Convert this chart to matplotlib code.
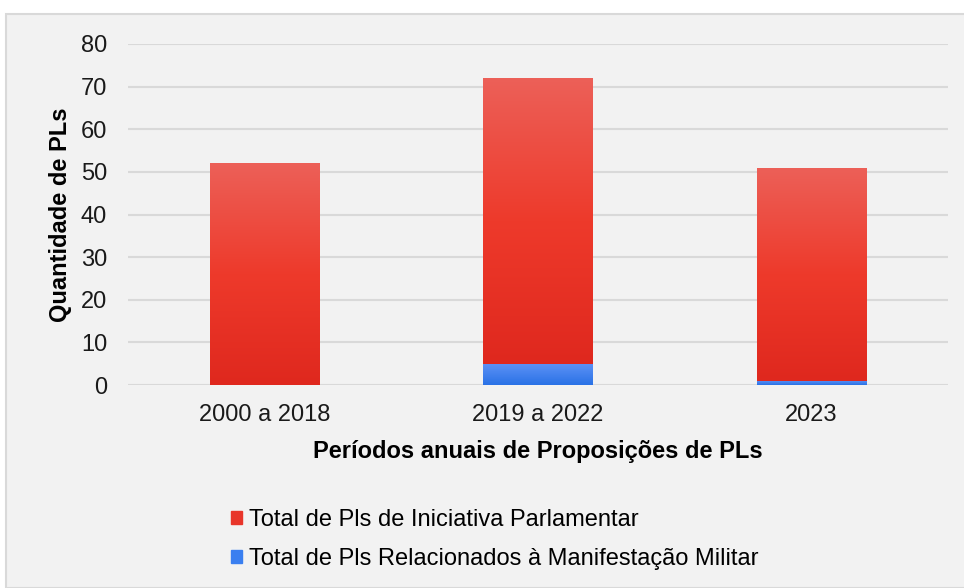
import numpy as np
import matplotlib.pyplot as plt
from matplotlib.colors import LinearSegmentedColormap
from matplotlib.patches import Rectangle

plt.rcParams['font.family'] = ['Liberation Sans', 'DejaVu Sans']

# Dados
periodos = ["2000 a 2018", "2019 a 2022", "2023"]
militar = [0, 5, 1]
parlamentar = [52, 67, 50]  # empilhado sobre "militar"
nome_parl = "Total de Pls de Iniciativa Parlamentar"
nome_mil = "Total de Pls Relacionados à Manifestação Militar"

fig = plt.figure(figsize=(9.64, 5.88), dpi=100)
fig.patch.set_facecolor("white")

# Painel cinza do gráfico
painel = Rectangle((6 / 964, 0), 1, 1 - 14 / 588, transform=fig.transFigure,
                   facecolor="#f2f2f2", edgecolor="#d9d9d9", lw=1.5, zorder=-10)
fig.patches.append(painel)

ax = fig.add_axes([128 / 964, 1 - 385 / 588, 820 / 964, 341 / 588])
ax.set_facecolor("none")
ax.set_zorder(1)

x = np.arange(len(periodos))
largura = 0.4

cmap_red = LinearSegmentedColormap.from_list("r", ["#df281e", "#ee3a2b", "#ec6058"])
cmap_blue = LinearSegmentedColormap.from_list("b", ["#2a72e6", "#5e92f6"])
grad = np.linspace(0, 1, 256).reshape(-1, 1)

barras_mil = ax.bar(x, militar, largura, color="#3a7ff0", label=nome_mil, zorder=3)
barras_parl = ax.bar(x, parlamentar, largura, bottom=militar, color="#e8352a",
                     label=nome_parl, zorder=3)

# Preenchimento em gradiente
for barras, cmap in [(barras_mil, cmap_blue), (barras_parl, cmap_red)]:
    for b in barras:
        if b.get_height() <= 0:
            continue
        bx, by = b.get_x(), b.get_y()
        w, h = b.get_width(), b.get_height()
        im = ax.imshow(grad, cmap=cmap, aspect="auto", origin="lower",
                       extent=[bx, bx + w, by, by + h], zorder=4)
        im.set_clip_path(b)

ax.set_xlim(-0.5, 2.5)
ax.set_ylim(0, 80)
ax.set_yticks(range(0, 81, 10))
ax.set_xticks(x)
ax.set_xticklabels(periodos)
ax.yaxis.grid(True, color="#d9d9d9", lw=1.5, zorder=0)
ax.set_axisbelow(True)
for s in ax.spines.values():
    s.set_visible(False)
ax.tick_params(length=0, labelsize=17, colors="#1a1a1a")
ax.tick_params(axis="y", pad=15)
ax.tick_params(axis="x", pad=14)

ax.set_ylabel("Quantidade de PLs", fontsize=17, fontweight="bold", labelpad=6)
ax.set_xlabel("Períodos anuais de Proposições de PLs", fontsize=17,
              fontweight="bold", labelpad=10)

handles = [Rectangle((0, 0), 1, 1, color="#e8352a"), Rectangle((0, 0), 1, 1, color="#3a7ff0")]
fig.legend(handles, [nome_parl, nome_mil], loc="upper left",
           bbox_to_anchor=(210 / 964, 1 - 488 / 588), frameon=False, fontsize=17,
           handlelength=0.45, handleheight=0.45, handletextpad=0.3, labelspacing=0.7)

fig.savefig("out.png", dpi=100)
